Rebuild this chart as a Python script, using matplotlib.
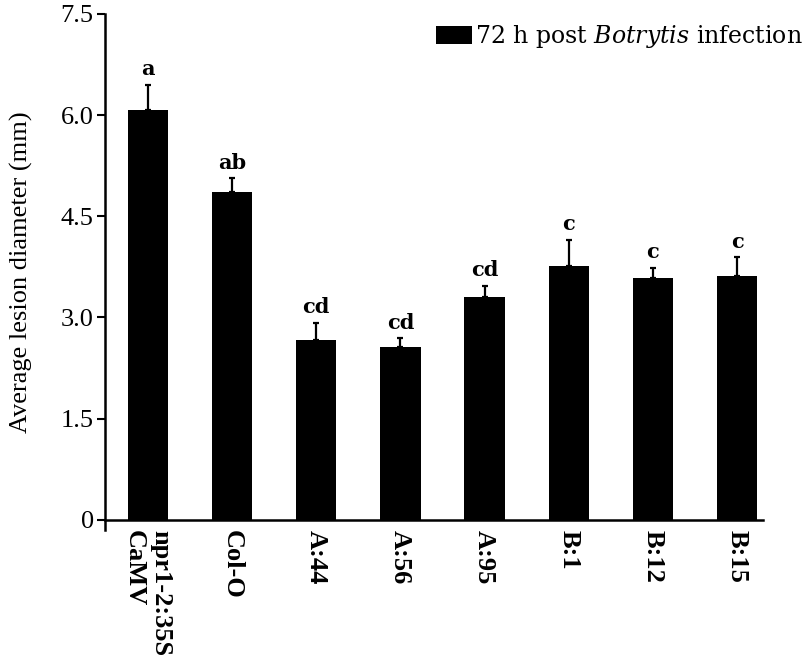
import numpy as np
import matplotlib
matplotlib.use("Agg")
import matplotlib.pyplot as plt

# ------------------------- Data -------------------------
lines = ["npr1-2:35S\nCaMV", "Col-O", "A:44", "A:56", "A:95", "B:1", "B:12", "B:15"]
lesion_mm = [6.07, 4.86, 2.66, 2.56, 3.30, 3.77, 3.58, 3.61]
lesion_err = [0.38, 0.20, 0.26, 0.13, 0.17, 0.38, 0.16, 0.28]
groups = ["a", "ab", "cd", "cd", "cd", "c", "c", "c"]
y_ticks = [0, 1.5, 3.0, 4.5, 6.0, 7.5]
y_tick_labels = ["0", "1.5", "3.0", "4.5", "6.0", "7.5"]

# ------------------------- Style -------------------------
plt.rcParams['font.family'] = ['Liberation Serif', 'DejaVu Serif']
plt.rcParams['mathtext.fontset'] = 'custom'
plt.rcParams['mathtext.rm'] = 'DejaVu Serif'
plt.rcParams['mathtext.it'] = 'DejaVu Serif:italic'

fig = plt.figure(figsize=(8.06, 6.56), dpi=100)
# y=0 at 520 px, 7.5 near 14 px, axis dips a little below zero
ax = fig.add_axes([0.130, 0.192, 0.817, 0.787])

x = np.arange(len(lines))
zeros = np.zeros(len(lines))
ax.bar(x, lesion_mm, width=0.48, color='black',
       label='72 h post $\\mathit{Botrytis}$ infection', zorder=2)
ax.errorbar(x, lesion_mm, yerr=[zeros, lesion_err], fmt='none', ecolor='black',
            elinewidth=1.6, capsize=2, capthick=1.6, zorder=1)

for xi, top, err, g in zip(x, lesion_mm, lesion_err, groups):
    ax.annotate(g, (xi, top + err), xytext=(0, 4), textcoords='offset points',
                ha='center', va='bottom', fontsize=15, fontweight='bold',
                family='DejaVu Serif')

ax.set_xlim(-0.51, 7.31)
ax.set_ylim(-0.15, 7.5)
ax.spines['bottom'].set_position(('data', 0))
ax.spines['top'].set_visible(False)
ax.spines['right'].set_visible(False)
ax.spines['left'].set_linewidth(1.8)
ax.spines['bottom'].set_linewidth(1.8)

ax.set_yticks(y_ticks)
ax.set_yticklabels(y_tick_labels, fontsize=19)
ax.tick_params(axis='y', direction='out', length=6, width=1.5, pad=2)

ax.set_xticks(x)
ax.set_xticklabels(lines, rotation=270, fontsize=19, fontweight='bold',
                   ha='center', va='top', multialignment='left')
ax.tick_params(axis='x', length=0, pad=7)

ax.set_ylabel('Average lesion diameter (mm)', fontsize=19, labelpad=20)

ax.legend(loc='upper right', bbox_to_anchor=(1.075, 1.0), frameon=False,
          prop={'family': 'DejaVu Serif', 'size': 17},
          handlelength=1.5, handleheight=0.85, handletextpad=0.15,
          borderaxespad=0)

fig.savefig('out.png', dpi=100)
